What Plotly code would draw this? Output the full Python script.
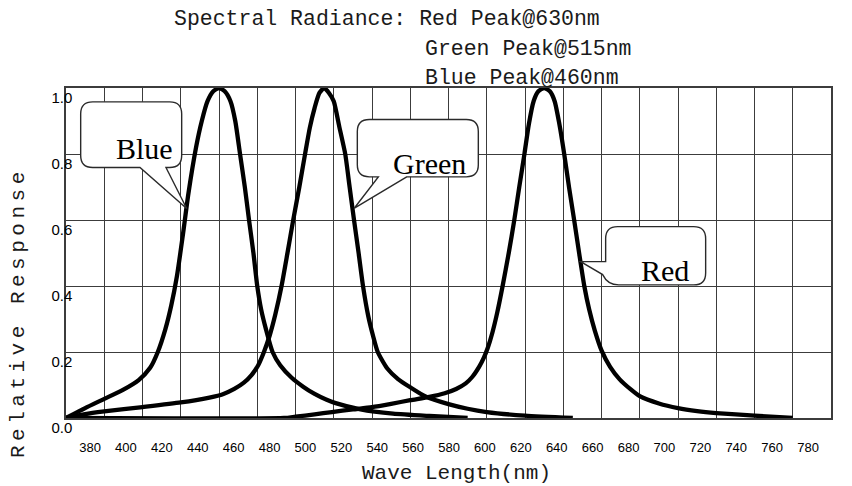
import plotly.graph_objects as go

# ---- data ----
blue_wl = [380, 390, 400, 410, 418, 424, 428, 432, 435, 438, 441, 444, 448, 451, 454, 457, 460,
           463, 466, 468.5, 471, 473.5, 475.7, 478, 480, 482, 484.5, 488, 492, 498, 504, 510, 516,
           521, 534, 551, 570, 590]
blue_val = [0, 0.03, 0.058, 0.086, 0.115, 0.152, 0.2, 0.27, 0.34, 0.43, 0.55, 0.68, 0.82, 0.9, 0.96, 0.99, 1.0,
            0.99, 0.96, 0.9, 0.8, 0.7, 0.6, 0.5, 0.4, 0.33, 0.27, 0.2, 0.16, 0.122, 0.095, 0.073, 0.056,
            0.045, 0.026, 0.013, 0.006, 0.0]

green_wl = [380, 390, 400, 420, 440, 455, 462, 468, 473, 477, 480.5, 483.5, 486.5, 489.5, 492.7, 495.8,
            498.8, 502, 505, 507.5, 510, 512.5, 515, 517.5, 520, 523, 526, 528.3, 530.6, 533, 535.3,
            538, 540.5, 543, 548, 553.6, 560, 568, 580, 590, 600, 620, 645]
green_val = [0, 0.012, 0.02, 0.033, 0.047, 0.062, 0.072, 0.088, 0.107, 0.13, 0.16, 0.2, 0.25, 0.315, 0.4, 0.5,
             0.6, 0.7, 0.8, 0.88, 0.94, 0.985, 1.0, 0.985, 0.96, 0.88, 0.8, 0.7, 0.6, 0.5, 0.4,
             0.31, 0.25, 0.2, 0.15, 0.118, 0.093, 0.065, 0.042, 0.028, 0.018, 0.007, 0.0]

red_wl = [380, 494, 500, 510, 519, 530, 540, 550, 560, 570, 578, 584, 589, 592.5, 596, 598.5, 600.5,
          603, 605.5, 608.3, 611.5, 614.4, 617, 619.7, 622, 624.5, 627, 630, 633, 635.5, 638, 640.5,
          643, 645.7, 648.3, 651, 653.5, 656.5, 660, 664.5, 669.5, 675, 680, 690, 700, 710, 720, 740, 760]
red_val = [0, 0, 0.004, 0.011, 0.018, 0.026, 0.033, 0.043, 0.054, 0.064, 0.075, 0.088, 0.105, 0.125, 0.155, 0.183, 0.212,
           0.26, 0.32, 0.4, 0.5, 0.6, 0.7, 0.8, 0.89, 0.96, 0.99, 1.0, 0.99, 0.96, 0.89, 0.8,
           0.7, 0.6, 0.5, 0.4, 0.33, 0.265, 0.205, 0.155, 0.117, 0.088, 0.066, 0.044, 0.03, 0.021, 0.015, 0.007, 0.0]

x_tick_vals = list(range(380, 781, 20))
x_tick_text = [str(v) for v in x_tick_vals]
y_tick_vals = [0.0, 0.2, 0.4, 0.6, 0.8, 1.0]
y_tick_text = ["0.0", "0.2", "0.4", "0.6", "0.8", "1.0"]

title_lines = ["Spectral Radiance: Red Peak@630nm", "Green Peak@515nm", "Blue Peak@460nm"]
callout_names = ["Blue", "Green", "Red"]
callout_tips = [(443.1, 0.635), (530.6, 0.635), (649.1, 0.474)]  # (wavelength, response) on each curve

GRID = "#3c3c3c"
MONO = "Liberation Mono"

fig = go.Figure()
for wl, val in [(blue_wl, blue_val), (green_wl, green_val), (red_wl, red_val)]:
    fig.add_trace(go.Scatter(x=wl, y=val, mode="lines",
                             line=dict(color="black", width=4.3, shape="spline", smoothing=0.6),
                             hoverinfo="skip", showlegend=False))
# invisible trace to activate the label axis
fig.add_trace(go.Scatter(x=x_tick_vals, y=[0] * len(x_tick_vals), xaxis="x2", mode="markers",
                         marker=dict(opacity=0), hoverinfo="skip", showlegend=False))

fig.update_layout(
    width=852, height=486,
    margin=dict(l=66, r=21, t=88, b=68),
    paper_bgcolor="white", plot_bgcolor="white",
    xaxis=dict(range=[380, 780], tick0=380, dtick=20, showgrid=True, gridcolor=GRID, gridwidth=1,
               showticklabels=False, ticks="", showline=True, mirror=True, linecolor=GRID,
               linewidth=1.5, zeroline=False, fixedrange=True),
    xaxis2=dict(overlaying="x", anchor="y", side="bottom", range=[366.6, 792.8],
                tickmode="array", tickvals=x_tick_vals, ticktext=x_tick_text,
                showgrid=False, showline=False, ticks="", zeroline=False,
                tickfont=dict(family="Liberation Sans", size=13, color="black"),
                ticklabelstandoff=20, fixedrange=True),
    yaxis=dict(range=[0, 1], tickmode="array", tickvals=y_tick_vals, ticktext=y_tick_text,
               showgrid=True, gridcolor=GRID, gridwidth=1, ticks="", showline=True, mirror=True,
               linecolor=GRID, linewidth=1.5, zeroline=False,
               tickfont=dict(family="Liberation Sans", size=15, color="black"),
               ticklabelstandoff=-11, ticklabelshift=10, fixedrange=True),
)

ann = []
# header text
ann.append(dict(xref="paper", yref="paper", x=(172 - 66) / 765, y=(418 - 19) / 330, xanchor="left",
                yanchor="middle", text=title_lines[0], showarrow=False,
                font=dict(family=MONO, size=21.5, color="#1a1a1a")))
for i, line in enumerate(title_lines[1:]):
    ann.append(dict(xref="paper", yref="paper", x=(423 - 66) / 765, y=(418 - (49 + 29 * i)) / 330,
                    xanchor="left", yanchor="middle", text=line, showarrow=False,
                    font=dict(family=MONO, size=21.5, color="#1a1a1a")))
# axis titles
ann.append(dict(xref="paper", yref="paper", x=(457 - 66) / 765, y=(418 - 473) / 330,
                xanchor="center", yanchor="middle", text="Wave Length(nm)", showarrow=False,
                font=dict(family=MONO, size=21, color="#1a1a1a")))
ann.append(dict(xref="paper", yref="paper", x=(18 - 66) / 765, y=(418 - 313) / 330,
                xanchor="center", yanchor="middle", textangle=-90,
                text='<span style="letter-spacing:4.5px">Relative Response</span>', showarrow=False,
                font=dict(family=MONO, size=21, color="#1a1a1a")))

# callout bubbles (pixel offsets relative to the tip, y up)
r = 12
blue_path = (f"M -20.7 41 L 0 0 L -46.7 41 L {-106 + r} 41 Q -106 41 -106 {41 + r} "
             f"L -106 {106.6 - r} Q -106 106.6 {-106 + r} 106.6 L {-5 - r} 106.6 Q -5 106.6 -5 {106.6 - r} "
             f"L -5 {41 + r} Q -5 41 {-5 - r} 41 Z")
green_path = (f"M 52.7 31.6 L 0 0 L 24.3 31.6 L {3.3 + r} 31.6 Q 3.3 31.6 3.3 {31.6 + r} "
              f"L 3.3 {89 - r} Q 3.3 89 {3.3 + r} 89 L {124.3 - r} 89 Q 124.3 89 124.3 {89 - r} "
              f"L 124.3 {31.6 + r} Q 124.3 31.6 {124.3 - r} 31.6 Z")
red_path = (f"M 0 0 L 25 0 L 25 {35 - r} Q 25 35 {25 + r} 35 L {125 - r} 35 Q 125 35 125 {35 - r} "
            f"L 125 {-23.3 + r} Q 125 -23.3 {125 - r} -23.3 L 38 -23.3 Q 27 -23.3 22 -13 Z")
paths = [blue_path, green_path, red_path]
text_shift = [(-41.7, 60.3), (75.7, 45.3), (84.2, -9.3)]

shapes = []
for (tx, ty), p in zip(callout_tips, paths):
    shapes.append(dict(type="path", xref="x", yref="y", xsizemode="pixel", ysizemode="pixel",
                       xanchor=tx, yanchor=ty, path=p, fillcolor="white",
                       line=dict(color="#2a2a2a", width=1.4), layer="above"))
for name, (tx, ty), (dx, dy) in zip(callout_names, callout_tips, text_shift):
    ann.append(dict(xref="x", yref="y", x=tx, y=ty, xshift=dx, yshift=dy, text=name, showarrow=False,
                    xanchor="center", yanchor="middle",
                    font=dict(family="Liberation Serif", size=30, color="black")))

fig.update_layout(annotations=ann, shapes=shapes)
fig.write_html("out.html", config=dict(displayModeBar=False))
